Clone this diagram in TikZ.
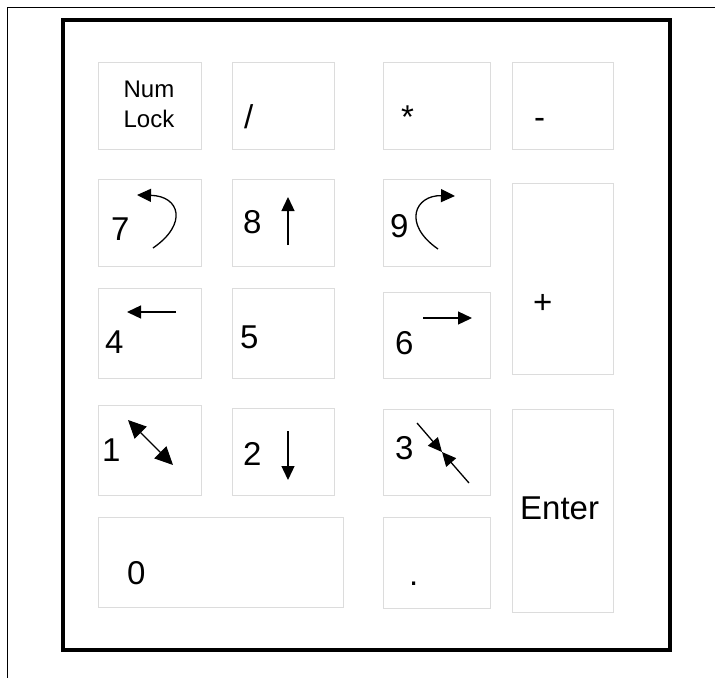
\documentclass[tikz,border=0pt]{standalone}
\usepackage{fontspec}
\setmainfont{Liberation Sans}
\definecolor{keygray}{RGB}{220,220,220}
\usetikzlibrary{arrows.meta, fit}

\begin{document}
\begin{tikzpicture}[
  x=1pt, y=-1pt,
  keybox/.style={draw=keygray, line width=1pt, inner sep=0pt},
  padframe/.style={draw, line width=4pt, inner sep=0pt},
  keylabel/.style={inner sep=0pt, anchor=base west, font=\fontsize{33}{35}\selectfont},
  movearrow/.style={line width=1.3pt, -{Triangle[length=14pt, width=13pt]}}
]
  \useasboundingbox (0,0) rectangle (715,678);
  \draw[line width=1pt] (715,7) -- (7,7) -- (7,678);
  \node[padframe, fit={(63,20) (670,650)}] (pad) {};

  \node[keybox, fit={(98,62) (201,149)}] (numlock) {};
  \node[keybox, fit={(232,62) (334,149)}] (slash) {};
  \node[keybox, fit={(383,62) (490,149)}] (star) {};
  \node[keybox, fit={(512,62) (613,149)}] (minus) {};
  \node[keybox, fit={(98,179) (201,266)}] (k7) {};
  \node[keybox, fit={(232,179) (334,266)}] (k8) {};
  \node[keybox, fit={(383,179) (490,266)}] (k9) {};
  \node[keybox, fit={(512,183) (613,374)}] (plus) {};
  \node[keybox, fit={(98,288) (201,378)}] (k4) {};
  \node[keybox, fit={(232,288) (334,378)}] (k5) {};
  \node[keybox, fit={(383,292) (490,378)}] (k6) {};
  \node[keybox, fit={(98,405) (201,495)}] (k1) {};
  \node[keybox, fit={(232,408) (334,495)}] (k2) {};
  \node[keybox, fit={(383,409) (490,495)}] (k3) {};
  \node[keybox, fit={(512,409) (613,612)}] (enter) {};
  \node[keybox, fit={(98,517) (343,607)}] (k0) {};
  \node[keybox, fit={(383,517) (490,608)}] (dot) {};

  \node[inner sep=0pt, align=center, font=\fontsize{24}{30}\selectfont] (lnum) at (149,104) {Num\\Lock};
  \node[keylabel] (lslash) at (244,128) {/};
  \node[keylabel] (lstar) at (401,128) {*};
  \node[keylabel] (lminus) at (534,128) {-};
  \node[keylabel] (l7) at (111,240) {7};
  \node[keylabel] (l8) at (243,233) {8};
  \node[keylabel] (l9) at (390,237) {9};
  \node[keylabel] (lplus) at (533,313) {+};
  \node[keylabel] (l4) at (105,353) {4};
  \node[keylabel] (l5) at (240,348) {5};
  \node[keylabel] (l6) at (395,354) {6};
  \node[keylabel] (l1) at (102,461) {1};
  \node[keylabel] (l2) at (243,465) {2};
  \node[keylabel] (l3) at (395,459) {3};
  \node[keylabel] (lenter) at (520,519) {Enter};
  \node[keylabel] (l0) at (127,584) {0};
  \node[keylabel] (ldot) at (409,585) {.};

  \draw[movearrow] (153,248) .. controls (188,224) and (180,196) .. (137,195);
  \draw[movearrow] (288,245) -- (288,197);
  \draw[movearrow] (438,249) .. controls (402,224) and (415,195) .. (455,196);
  \draw[movearrow] (176,312) -- (127,312);
  \draw[movearrow] (423,318) -- (472,318);
  \draw[line width=1.3pt, {Triangle[length=18pt, width=17pt]}-{Triangle[length=18pt, width=17pt]}] (128,420) -- (173,465);
  \draw[movearrow] (288,431) -- (288,480);
  \draw[movearrow] (417,423) -- (442,452);
  \draw[movearrow] (469,483) -- (442,452);
\end{tikzpicture}
\end{document}
